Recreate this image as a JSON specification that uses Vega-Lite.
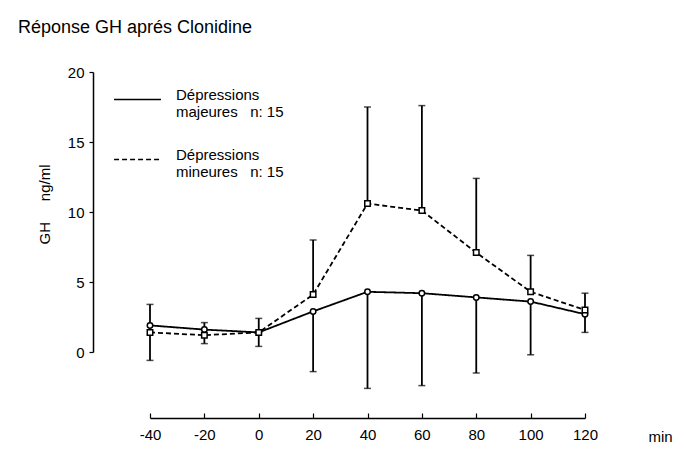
{
  "$schema": "https://vega.github.io/schema/vega-lite/v6.json",
  "autosize": {"type": "none"},
  "width": 435,
  "height": 280,
  "padding": {"left": 150, "top": 72, "right": 101, "bottom": 109},
  "background": "white",
  "config": {
    "font": "Liberation Sans",
    "view": {"stroke": null},
    "axis": {
      "grid": false,
      "domainColor": "black",
      "tickColor": "black",
      "labelColor": "black",
      "titleColor": "black",
      "labelFont": "Liberation Sans",
      "titleFont": "Liberation Sans",
      "labelFontSize": 15,
      "titleFontSize": 15,
      "titleFontWeight": "normal",
      "domainWidth": 1.5,
      "tickWidth": 1.2
    },
    "legend": {
      "labelFont": "Liberation Sans",
      "labelFontSize": 15,
      "labelColor": "black"
    }
  },
  "title": {
    "text": "Réponse GH aprés Clonidine",
    "anchor": "start",
    "frame": "group",
    "dx": -132,
    "offset": 14,
    "baseline": "alphabetic",
    "fontSize": 18,
    "fontWeight": "normal",
    "font": "Liberation Sans",
    "color": "black"
  },
  "data": {
    "values": [
      {"t": -40, "groupe": "Dépressions|majeures\u00a0\u00a0\u00a0n: 15", "gh": 1.9, "err": -0.6},
      {"t": -20, "groupe": "Dépressions|majeures\u00a0\u00a0\u00a0n: 15", "gh": 1.6, "err": 0.6},
      {"t": 0, "groupe": "Dépressions|majeures\u00a0\u00a0\u00a0n: 15", "gh": 1.4, "err": 0.4},
      {"t": 20, "groupe": "Dépressions|majeures\u00a0\u00a0\u00a0n: 15", "gh": 2.9, "err": -1.4},
      {"t": 40, "groupe": "Dépressions|majeures\u00a0\u00a0\u00a0n: 15", "gh": 4.3, "err": -2.6},
      {"t": 60, "groupe": "Dépressions|majeures\u00a0\u00a0\u00a0n: 15", "gh": 4.2, "err": -2.4},
      {"t": 80, "groupe": "Dépressions|majeures\u00a0\u00a0\u00a0n: 15", "gh": 3.9, "err": -1.5},
      {"t": 100, "groupe": "Dépressions|majeures\u00a0\u00a0\u00a0n: 15", "gh": 3.6, "err": -0.2},
      {"t": 120, "groupe": "Dépressions|majeures\u00a0\u00a0\u00a0n: 15", "gh": 2.7, "err": 1.4},
      {"t": -40, "groupe": "Dépressions|mineures\u00a0\u00a0\u00a0n: 15", "gh": 1.4, "err": 3.4},
      {"t": -20, "groupe": "Dépressions|mineures\u00a0\u00a0\u00a0n: 15", "gh": 1.2, "err": 2.1},
      {"t": 0, "groupe": "Dépressions|mineures\u00a0\u00a0\u00a0n: 15", "gh": 1.4, "err": 2.4},
      {"t": 20, "groupe": "Dépressions|mineures\u00a0\u00a0\u00a0n: 15", "gh": 4.1, "err": 8.0},
      {"t": 40, "groupe": "Dépressions|mineures\u00a0\u00a0\u00a0n: 15", "gh": 10.6, "err": 17.5},
      {"t": 60, "groupe": "Dépressions|mineures\u00a0\u00a0\u00a0n: 15", "gh": 10.1, "err": 17.6},
      {"t": 80, "groupe": "Dépressions|mineures\u00a0\u00a0\u00a0n: 15", "gh": 7.1, "err": 12.4},
      {"t": 100, "groupe": "Dépressions|mineures\u00a0\u00a0\u00a0n: 15", "gh": 4.3, "err": 6.9},
      {"t": 120, "groupe": "Dépressions|mineures\u00a0\u00a0\u00a0n: 15", "gh": 3.0, "err": 4.2}
    ]
  },
  "encoding": {
    "x": {
      "field": "t",
      "type": "quantitative",
      "scale": {"domain": [-40, 120], "nice": false, "zero": false},
      "axis": {
        "values": [-40, -20, 0, 20, 40, 60, 80, 100, 120],
        "offset": 66,
        "tickSize": -5,
        "labelPadding": 14,
        "labelFlush": false,
        "labelExpr": "datum.value < 0 ? '-' + abs(datum.value) : '' + datum.value",
        "title": "min",
        "titleX": 510,
        "titleY": 18,
        "titleAlign": "center",
        "titleBaseline": "middle"
      }
    }
  },
  "layer": [
    {
      "mark": {"type": "rule", "color": "black", "strokeWidth": 1.8},
      "encoding": {
        "y": {"field": "gh", "type": "quantitative"},
        "y2": {"field": "err"}
      }
    },
    {
      "mark": {"type": "tick", "orient": "horizontal", "color": "black", "size": 7, "thickness": 1.5},
      "encoding": {
        "y": {"field": "err", "type": "quantitative"}
      }
    },
    {
      "mark": {"type": "line", "color": "black", "strokeWidth": 1.8},
      "encoding": {
        "y": {
          "field": "gh",
          "type": "quantitative",
          "scale": {"domain": [0, 20], "nice": false, "zero": false},
          "axis": {
            "values": [0, 5, 10, 15, 20],
            "offset": 57,
            "tickSize": 4,
            "labelPadding": 5,
            "title": "GH\u00a0\u00a0\u00a0\u00a0\u00a0ng/ml",
            "titleAngle": -90,
            "titleX": -49,
            "titleY": 132,
            "titleAlign": "center",
            "titleBaseline": "middle"
          }
        },
        "strokeDash": {
          "field": "groupe",
          "type": "nominal",
          "scale": {
            "domain": ["Dépressions|majeures\u00a0\u00a0\u00a0n: 15", "Dépressions|mineures\u00a0\u00a0\u00a0n: 15"],
            "range": [[1, 0], [5, 3]]
          },
          "legend": {
            "title": null,
            "orient": "none",
            "legendX": -37,
            "legendY": 3,
            "symbolType": "stroke",
            "symbolSize": 2200,
            "symbolStrokeColor": "black",
            "symbolStrokeWidth": 1.5,
            "labelOffset": 14,
            "labelBaseline": "alphabetic",
            "labelExpr": "split(datum.label, '|')",
            "labelLimit": 300,
            "rowPadding": 15,
            "padding": 0
          }
        }
      }
    },
    {
      "transform": [{"filter": "indexof(datum.groupe, 'majeures') >= 0"}],
      "mark": {"type": "point", "shape": "circle", "filled": false, "fill": "white", "fillOpacity": 1, "color": "black", "strokeWidth": 1.5, "size": 30, "opacity": 1},
      "encoding": {
        "y": {"field": "gh", "type": "quantitative"}
      }
    },
    {
      "transform": [{"filter": "indexof(datum.groupe, 'mineures') >= 0"}],
      "mark": {"type": "point", "shape": "square", "filled": false, "fill": "white", "fillOpacity": 1, "color": "black", "strokeWidth": 1.5, "size": 30, "opacity": 1},
      "encoding": {
        "y": {"field": "gh", "type": "quantitative"}
      }
    }
  ]
}
